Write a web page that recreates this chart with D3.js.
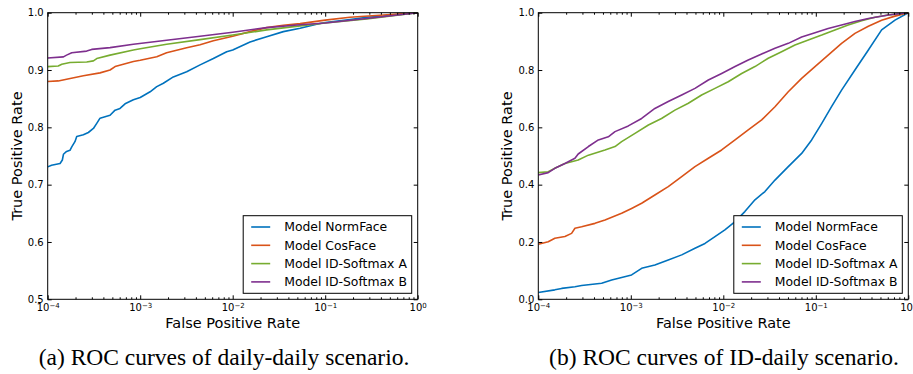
<!DOCTYPE html>
<html>
<head>
<meta charset="utf-8">
<script src="https://cdn.jsdelivr.net/npm/d3@7"></script>
<style>
  body { margin: 0; background: #fff; }
  svg { display: block; font-family: "DejaVu Sans", sans-serif; }
</style>
</head>
<body>
<svg id="chart" width="913" height="374"></svg>
<script>
// legend entries, shared by both panels
const seriesNames = ["Model NormFace", "Model CosFace", "Model ID-Softmax A", "Model ID-Softmax B"];
const seriesColors = ["#0072bd", "#d95319", "#77ac30", "#7e2f8e"];

// (a) daily-daily: [false positive rate, true positive rate]
const dailyNormFace = [[1e-4,0.731],[1.1e-4,0.734],[1.36e-4,0.737],[1.44e-4,0.743],[1.48e-4,0.753],[1.6e-4,0.758],[1.74e-4,0.760],[1.82e-4,0.766],[1.97e-4,0.775],[2.06e-4,0.784],[2.43e-4,0.787],[2.75e-4,0.791],[3.12e-4,0.798],[3.39e-4,0.807],[3.68e-4,0.816],[4.72e-4,0.821],[5.35e-4,0.830],[6.05e-4,0.833],[6.86e-4,0.841],[8.44e-4,0.848],[1e-3,0.852],[1.28e-3,0.862],[1.51e-3,0.871],[1.78e-3,0.877],[2.28e-3,0.888],[3.18e-3,0.897],[4.44e-3,0.909],[6.18e-3,0.920],[8.61e-3,0.932],[1e-2,0.935],[1.54e-2,0.949],[2.33e-2,0.958],[3.53e-2,0.967],[5.35e-2,0.973],[8.09e-2,0.980],[0.1,0.983],[0.185,0.988],[0.281,0.992],[0.425,0.994],[0.644,0.997],[1,1]];
const dailyCosFace = [[1e-4,0.880],[1.3e-4,0.881],[1.6e-4,0.884],[2.43e-4,0.890],[3.68e-4,0.895],[4.72e-4,0.900],[5.35e-4,0.906],[8.44e-4,0.915],[1e-3,0.917],[1.51e-3,0.923],[1.93e-3,0.930],[3.18e-3,0.939],[4.44e-3,0.944],[6.18e-3,0.951],[1e-2,0.959],[1.54e-2,0.967],[2.33e-2,0.974],[3.53e-2,0.978],[5.35e-2,0.981],[0.1,0.987],[0.185,0.992],[0.425,0.996],[1,1]];
const dailySoftmaxA = [[1e-4,0.906],[1.3e-4,0.907],[1.42e-4,0.910],[1.74e-4,0.913],[2.64e-4,0.914],[3.12e-4,0.916],[3.39e-4,0.920],[4.72e-4,0.926],[8.44e-4,0.935],[1e-3,0.937],[1.93e-3,0.945],[4.44e-3,0.953],[1e-2,0.961],[2.33e-2,0.970],[5.35e-2,0.977],[0.1,0.982],[0.281,0.989],[1,1]];
const dailySoftmaxB = [[1e-4,0.921],[1.48e-4,0.923],[1.6e-4,0.926],[1.82e-4,0.930],[2.64e-4,0.933],[2.99e-4,0.936],[4.72e-4,0.939],[8.44e-4,0.945],[1.93e-3,0.952],[4.44e-3,0.959],[1e-2,0.966],[2.33e-2,0.974],[5.35e-2,0.979],[0.1,0.982],[0.281,0.990],[1,1]];

// (b) ID-daily
const idNormFace = [[1e-4,0.024],[1.51e-4,0.033],[1.79e-4,0.038],[2.49e-4,0.044],[2.94e-4,0.048],[4.84e-4,0.056],[6.21e-4,0.067],[7.96e-4,0.076],[1.02e-3,0.085],[1.31e-3,0.108],[1.82e-3,0.120],[2.54e-3,0.137],[3.55e-3,0.155],[4.94e-3,0.178],[6.34e-3,0.195],[8.13e-3,0.219],[1.04e-2,0.242],[1.34e-2,0.271],[1.71e-2,0.306],[2.2e-2,0.347],[2.82e-2,0.376],[3.62e-2,0.416],[5.04e-2,0.463],[7.03e-2,0.509],[9.02e-2,0.556],[0.116,0.614],[0.148,0.672],[0.19,0.730],[0.265,0.800],[0.37,0.870],[0.515,0.940],[0.718,0.974],[1,1]];
const idCosFace = [[1e-4,0.192],[1.28e-4,0.201],[1.51e-4,0.213],[1.94e-4,0.219],[2.29e-4,0.230],[2.49e-4,0.248],[2.94e-4,0.253],[4.1e-4,0.265],[5.26e-4,0.277],[7.96e-4,0.300],[1.02e-3,0.317],[1.31e-3,0.335],[1.82e-3,0.364],[2.54e-3,0.393],[3.55e-3,0.428],[4.94e-3,0.463],[6.89e-3,0.492],[9.6e-3,0.521],[1.34e-2,0.556],[1.86e-2,0.591],[2.6e-2,0.626],[3.62e-2,0.672],[5.04e-2,0.724],[7.03e-2,0.771],[9.8e-2,0.812],[0.136,0.852],[0.19,0.893],[0.265,0.928],[0.37,0.953],[0.515,0.974],[0.718,0.988],[1,1]];
const idSoftmaxA = [[1e-4,0.442],[1.28e-4,0.445],[1.51e-4,0.457],[1.94e-4,0.474],[2.7e-4,0.486],[3.48e-4,0.503],[5.26e-4,0.521],[6.75e-4,0.533],[7.96e-4,0.550],[1.11e-3,0.579],[1.55e-3,0.608],[2.15e-3,0.631],[3e-3,0.660],[4.19e-3,0.684],[5.83e-3,0.713],[8.13e-3,0.736],[1.13e-2,0.759],[1.58e-2,0.788],[2.2e-2,0.812],[3.06e-2,0.841],[4.27e-2,0.864],[5.95e-2,0.887],[8.3e-2,0.905],[0.116,0.922],[0.161,0.940],[0.224,0.957],[0.313,0.972],[0.436,0.984],[0.608,0.992],[1,1]];
const idSoftmaxB = [[1e-4,0.434],[1.28e-4,0.442],[1.51e-4,0.457],[1.94e-4,0.474],[2.49e-4,0.492],[2.7e-4,0.507],[3.48e-4,0.533],[4.46e-4,0.556],[5.71e-4,0.567],[6.75e-4,0.585],[9.4e-4,0.605],[1.31e-3,0.631],[1.82e-3,0.666],[2.54e-3,0.690],[3.55e-3,0.713],[4.94e-3,0.736],[6.89e-3,0.765],[9.6e-3,0.788],[1.34e-2,0.812],[1.86e-2,0.835],[2.6e-2,0.856],[3.62e-2,0.876],[5.04e-2,0.893],[7.03e-2,0.915],[9.8e-2,0.930],[0.136,0.945],[0.19,0.957],[0.265,0.969],[0.37,0.980],[0.608,0.992],[1,1]];

// ticks
const xMajorTicks = [1e-4, 1e-3, 1e-2, 1e-1, 1];
const dailyYTicks = [0.5, 0.6, 0.7, 0.8, 0.9, 1.0];
const idYTicks = [0.0, 0.2, 0.4, 0.6, 0.8, 1.0];

const captions = ["(a) ROC curves of daily-daily scenario.", "(b) ROC curves of ID-daily scenario."];

(function () {
  const svg = d3.select("#chart");
  const top = 12.7, bottom = 299.3;
  const xMinorTicks = d3.range(-4, 0).flatMap(n => d3.range(2, 10).map(k => k * Math.pow(10, n)));

  function drawPanel(p, idx) {
    const x = d3.scaleLog().domain([1e-4, 1]).range([p.left, p.right]);
    const y = d3.scaleLinear().domain(p.yDomain).range([bottom, top]);
    const g = svg.append("g");

    const clipId = "clip" + idx;
    svg.append("clipPath").attr("id", clipId)
      .append("rect")
      .attr("x", p.left).attr("y", top)
      .attr("width", p.right - p.left).attr("height", bottom - top);

    const line = d3.line().x(d => x(d[0])).y(d => y(d[1]));
    g.append("g").attr("clip-path", `url(#${clipId})`)
      .selectAll("path")
      .data(p.series)
      .join("path")
      .attr("d", line)
      .attr("fill", "none")
      .attr("stroke", (d, i) => seriesColors[i])
      .attr("stroke-width", 1.6)
      .attr("stroke-linejoin", "round");

    // axes, ticks pointing inward
    const styleAxis = sel => {
      sel.select(".domain").remove();
      sel.attr("font-family", "DejaVu Sans").attr("font-size", 10);
      sel.selectAll(".tick line").attr("stroke", "#000");
      sel.selectAll(".tick text").attr("fill", "#000");
    };

    const gx = g.append("g").attr("transform", `translate(0,${bottom})`)
      .call(d3.axisBottom(x).tickValues(xMajorTicks).tickSize(-4).tickSizeOuter(0).tickPadding(5).tickFormat(() => "10"))
      .call(styleAxis);
    gx.selectAll(".tick text").append("tspan")
      .attr("dy", "-0.45em")
      .attr("font-size", 7)
      .text(d => String(Math.round(Math.log10(d))).replace("-", "\u2212"));
    g.append("g").attr("transform", `translate(0,${bottom})`)
      .call(d3.axisBottom(x).tickValues(xMinorTicks).tickSize(-2).tickSizeOuter(0).tickFormat(""))
      .call(styleAxis);
    g.append("g").attr("transform", `translate(0,${top})`)
      .call(d3.axisTop(x).tickValues(xMajorTicks).tickSize(-4).tickSizeOuter(0).tickFormat(""))
      .call(styleAxis);
    g.append("g").attr("transform", `translate(0,${top})`)
      .call(d3.axisTop(x).tickValues(xMinorTicks).tickSize(-2).tickSizeOuter(0).tickFormat(""))
      .call(styleAxis);

    g.append("g").attr("transform", `translate(${p.left},0)`)
      .call(d3.axisLeft(y).tickValues(p.yTicks).tickSize(-4).tickSizeOuter(0).tickPadding(4).tickFormat(d3.format(".1f")))
      .call(styleAxis);
    g.append("g").attr("transform", `translate(${p.right},0)`)
      .call(d3.axisRight(y).tickValues(p.yTicks).tickSize(-4).tickSizeOuter(0).tickFormat(""))
      .call(styleAxis);

    g.append("rect")
      .attr("x", p.left).attr("y", top)
      .attr("width", p.right - p.left).attr("height", bottom - top)
      .attr("fill", "none").attr("stroke", "#000").attr("stroke-width", 1);

    // legend, lower right
    const lw = 168.5, lh = 77.6;
    const lx = p.right - 6 - lw, ly = bottom - 6 - lh;
    const lg = g.append("g").attr("transform", `translate(${lx},${ly})`);
    lg.append("rect").attr("width", lw).attr("height", lh)
      .attr("fill", "#fff").attr("stroke", "#000").attr("stroke-width", 1);
    const items = lg.selectAll("g.item").data(seriesNames).join("g")
      .attr("class", "item")
      .attr("transform", (d, i) => `translate(0,${11.3 + i * 18.3})`);
    items.append("line")
      .attr("x1", 8).attr("x2", 27)
      .attr("stroke", (d, i) => seriesColors[i]).attr("stroke-width", 1.6);
    items.append("text")
      .attr("x", 41).attr("dy", "0.36em")
      .attr("font-size", 12.4)
      .text(d => d);

    // axis titles
    g.append("text")
      .attr("x", (p.left + p.right) / 2).attr("y", 328)
      .attr("text-anchor", "middle").attr("font-size", 14.5)
      .text("False Positive Rate");
    g.append("text")
      .attr("transform", `translate(${p.left - 26},${(top + bottom) / 2}) rotate(-90)`)
      .attr("text-anchor", "middle").attr("font-size", 14.5)
      .text("True Positive Rate");

    svg.append("text")
      .attr("x", p.captionX).attr("y", 365)
      .attr("text-anchor", "middle")
      .attr("font-family", "Liberation Serif, Times New Roman, serif")
      .attr("font-size", 23.5)
      .text(captions[idx]);
  }

  drawPanel({
    left: 47.7, right: 417.7, yDomain: [0.5, 1.0], yTicks: dailyYTicks, captionX: 224,
    series: [dailyNormFace, dailyCosFace, dailySoftmaxA, dailySoftmaxB]
  }, 0);
  drawPanel({
    left: 538.3, right: 908.3, yDomain: [0, 1.0], yTicks: idYTicks, captionX: 724,
    series: [idNormFace, idCosFace, idSoftmaxA, idSoftmaxB]
  }, 1);
})();
</script>
</body>
</html>
